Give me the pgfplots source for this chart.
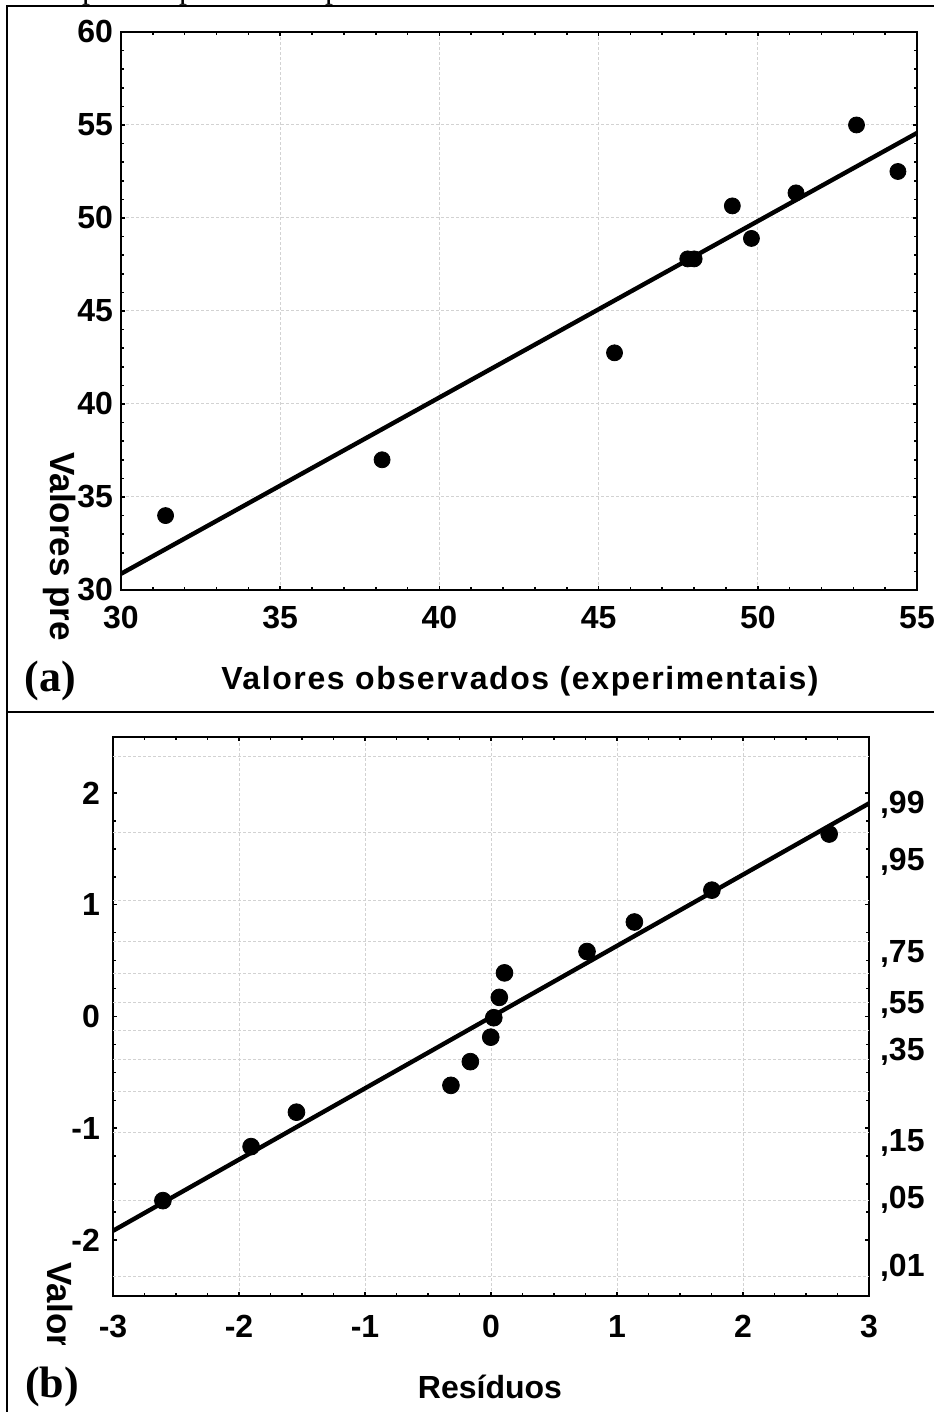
\documentclass[border=0pt]{standalone}
\usepackage{fontspec}
\setmainfont{Liberation Sans}
\newfontfamily\panelfont{Liberation Serif}
\usepackage{pgfplots}
\pgfplotsset{compat=1.18}

% normal quantiles of the cumulative probabilities .01 ... .99
\def\probgrid{-2.326,-1.645,-1.036,-0.674,-0.385,-0.126,0.126,0.385,0.674,1.036,1.645,2.326}

\pgfplotsset{
  statbox/.style={
    scale only axis,
    axis line style={black, line width=1pt},
    tick align=inside,
    tick style={black, line width=0.8pt},
    major tick length=2pt,
    minor tick length=1.5pt,
    major grid style={gray!35, line width=0.5pt, dash pattern=on 1.5pt off 1pt},
    ticklabel style={font=\bfseries\fontsize{16}{16}\selectfont},
    clip=true,
  },
}

\begin{document}
\begin{tikzpicture}
\useasboundingbox (0pt,0pt) rectangle (467pt,706pt);

% frame of the two panels
\draw[line width=1pt] (3.5pt,0pt) -- (3.5pt,703pt) -- (467pt,703pt);
\draw[line width=1pt] (3.5pt,350pt) -- (467pt,350pt);

% descenders of the line above
\foreach \px in {45pt,93.5pt,166.5pt}
  \node[anchor=base, inner sep=0pt, font=\panelfont\fontsize{16}{16}\selectfont] at (\px,706.5pt) {p};

% ---------------- (a) predicted vs observed ----------------
\begin{axis}[statbox,
  at={(60.5pt,690pt)}, anchor=north west,
  width=398pt, height=279pt,
  xmin=30, xmax=55, ymin=30, ymax=60,
  xtick={30,35,40,45,50,55}, ytick={30,35,40,45,50,55,60},
  xticklabels={30,35,40,45,50,55},
  yticklabels={30,35,40,45,50,55,60},
  minor x tick num=4, minor y tick num=4,
  grid=major,
  xticklabel style={yshift=-4.5pt},
  yticklabel style={xshift=-0.5pt},
]
\addplot[black, line width=2.2pt] coordinates {(30,30.87) (55,54.57)};
\addplot[only marks, mark=*, mark size=4pt, black] coordinates {
  (31.4,34.0) (38.2,37.0) (45.5,42.75) (47.8,47.8) (48.0,47.8)
  (49.2,50.65) (49.8,48.9) (51.2,51.35) (53.1,55.0) (54.4,52.5)
};
\end{axis}

\node[rotate=-90, anchor=west, inner sep=0pt, font=\bfseries\fontsize{17.5}{17.5}\selectfont]
  at (30pt,480pt) {Valores pre};
\node[font=\bfseries\fontsize{16}{16}\selectfont\addfontfeature{LetterSpace=5}]
  at (260pt,365.5pt) {Valores observados (experimentais)};
\node[font=\panelfont\bfseries\fontsize{22}{22}\selectfont] at (25pt,365.5pt) {(a)};

% ---------------- (b) normal probability plot of residuals ----------------
\begin{axis}[statbox,
  at={(56.5pt,337.5pt)}, anchor=north west,
  width=378pt, height=279.5pt,
  xmin=-3, xmax=3, ymin=-2.5, ymax=2.5,
  xtick={-3,-2,-1,0,1,2,3}, ytick={-2,-1,0,1,2},
  xticklabels={-3,-2,-1,0,1,2,3},
  yticklabels={-2,-1,0,1,2},
  minor x tick num=3, minor y tick num=3,
  xmajorgrids=true,
  extra y ticks=\probgrid,
  extra y tick labels={},
  extra y tick style={grid=major, major tick length=0pt},
  xticklabel style={yshift=-6pt},
  yticklabel style={xshift=-3pt},
]
\addplot[black, line width=2.2pt] coordinates {(-3,-1.917) (3,1.906)};
\addplot[only marks, mark=*, mark size=4.2pt, black] coordinates {
  (-2.604,-1.647) (-1.904,-1.164) (-1.544,-0.856) (-0.318,-0.616)
  (-0.164,-0.404) (-0.002,-0.185) (0.022,-0.011) (0.066,0.171)
  (0.107,0.390) (0.762,0.581) (1.138,0.845) (1.753,1.130) (2.684,1.632)
};
\end{axis}

% cumulative probability scale on the right
\begin{axis}[statbox,
  at={(56.5pt,337.5pt)}, anchor=north west,
  width=378pt, height=279.5pt,
  xmin=-3, xmax=3, ymin=-2.5, ymax=2.5,
  axis x line=none, axis y line*=right,
  axis line style={draw=none},
  ytick={-2.245,-1.637,-1.127,-0.313,0.107,0.563,1.386,1.896},
  yticklabels={{,01},{,05},{,15},{,35},{,55},{,75},{,95},{,99}},
  major tick length=0pt,
  yticklabel style={anchor=west, xshift=2pt},
]
\addplot[draw=none] coordinates {(0,0)};
\end{axis}

\begin{scope}
  \clip (10pt,33.5pt) rectangle (55pt,100pt);
  \node[rotate=-90, anchor=west, inner sep=0pt, font=\bfseries\fontsize{17.5}{17.5}\selectfont]
    at (30pt,75pt) {Valores};
\end{scope}
\node[font=\bfseries\fontsize{16}{16}\selectfont] at (245pt,12.5pt) {Resíduos};
\node[font=\panelfont\bfseries\fontsize{22}{22}\selectfont] at (26pt,12.5pt) {(b)};
\end{tikzpicture}
\end{document}
